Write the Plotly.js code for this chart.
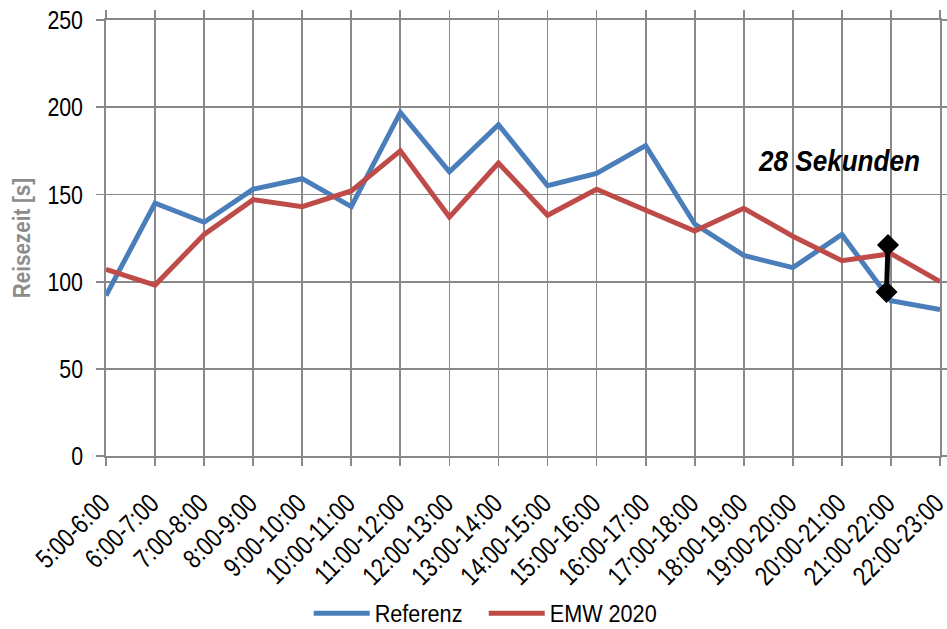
<!DOCTYPE html>
<html>
<head>
<meta charset="utf-8">
<script src="https://cdn.plot.ly/plotly-3.0.1.min.js"></script>
<style>html,body{margin:0;padding:0;background:#fff;}#chart{width:947px;height:629px;}</style>
</head>
<body>
<div id="chart"></div>
<script>
const categories = ["5:00-6:00","6:00-7:00","7:00-8:00","8:00-9:00","9:00-10:00","10:00-11:00","11:00-12:00","12:00-13:00","13:00-14:00","14:00-15:00","15:00-16:00","16:00-17:00","17:00-18:00","18:00-19:00","19:00-20:00","20:00-21:00","21:00-22:00","22:00-23:00"];
const referenz = [92,145,134,153,159,143,197,163,190,155,162,178,133,115,108,127,89,84];
const emw2020 = [107,98,127,147,143,152,175,137,168,138,153,141,129,142,126,112,116,100];
const diffX = [15.94, 15.91];
const diffY = [121, 94];
const diffLabel = "28 Sekunden";
const yTicks = [0,50,100,150,200,250];

const idx = categories.map((c,i)=>i);
const sans = "Liberation Sans, Arial, sans-serif";
const grid = "#898989";

const traces = [
  {x: idx, y: referenz, name: "Referenz", type: "scatter", mode: "lines",
   line: {color: "#4A7EBB", width: 5}},
  {x: idx, y: emw2020, name: "EMW 2020", type: "scatter", mode: "lines",
   line: {color: "#BE4B48", width: 5}},
  {x: diffX, y: diffY, type: "scatter", mode: "lines+markers", showlegend: false,
   line: {color: "#000", width: 5}, marker: {symbol: "diamond", size: 17, color: "#000"}}
];

const layout = {
  width: 947, height: 629,
  margin: {l: 106, r: 7, t: 20, b: 173},
  paper_bgcolor: "#fff", plot_bgcolor: "#fff",
  showlegend: true,
  font: {family: sans, color: "#000"},
  xaxis: {
    range: [0, categories.length - 1],
    tickmode: "array", tickvals: idx, ticktext: categories,
    tickangle: -45, tickfont: {family: sans, size: 27, color: "#000"},
    ticklabeloverflow: "allow", ticklabelstandoff: 10,
    showgrid: true, gridcolor: grid, gridwidth: 1.8,
    showline: true, linecolor: grid, linewidth: 1.8, mirror: "all",
    ticks: "outside", ticklen: 8, tickcolor: grid, tickwidth: 1.8,
    zeroline: false
  },
  yaxis: {
    range: [0, 250], tickvals: yTicks,
    tickfont: {family: sans, size: 26, color: "#000"},
    ticklabelstandoff: 8,
    showgrid: true, gridcolor: grid, gridwidth: 1.8,
    showline: true, linecolor: grid, linewidth: 1.8, mirror: "all",
    ticks: "outside", ticklen: 8, tickcolor: grid, tickwidth: 1.8,
    zeroline: false,
    title: {text: "Reisezeit [s]", font: {family: sans, size: 24, weight: "bold", color: "#8C8C8C"}, standoff: 2}
  },
  legend: {
    orientation: "h", xref: "container", yref: "container",
    x: 0.326, y: 0.025, xanchor: "left", yanchor: "middle",
    font: {family: sans, size: 23, color: "#000"},
    itemwidth: 56, tracegroupgap: 0,
    entrywidth: 104, entrywidthmode: "pixels"
  },
  annotations: [{
    x: 14.95, y: 169, xref: "x", yref: "y", text: diffLabel,
    showarrow: false, xanchor: "center", yanchor: "middle",
    font: {family: sans, size: 29, weight: "bold", style: "italic", color: "#000"}
  }]
};

function squeeze(sel, f) {
  document.querySelectorAll(sel).forEach(t => {
    const L = t.getComputedTextLength();
    if (L > 0) {
      t.setAttribute("textLength", (L * f).toFixed(2));
      t.setAttribute("lengthAdjust", "spacingAndGlyphs");
    }
  });
}

Plotly.newPlot("chart", traces, layout, {displayModeBar: false, staticPlot: true}).then(() => {
  squeeze(".xtick text", 0.8);
  squeeze(".ytick text", 0.82);
  squeeze(".ytitle", 0.86);
  squeeze(".legendtext", 0.94);
  squeeze(".annotation-text", 0.9);
  document.querySelectorAll(".xtick text").forEach(t => {
    const tr = t.getAttribute("transform") || "";
    t.setAttribute("transform", "translate(-4,1) " + tr);
  });
  document.querySelectorAll(".legend .js-line").forEach(p => p.setAttribute("d", "M5,0h56"));
});
</script>
</body>
</html>
